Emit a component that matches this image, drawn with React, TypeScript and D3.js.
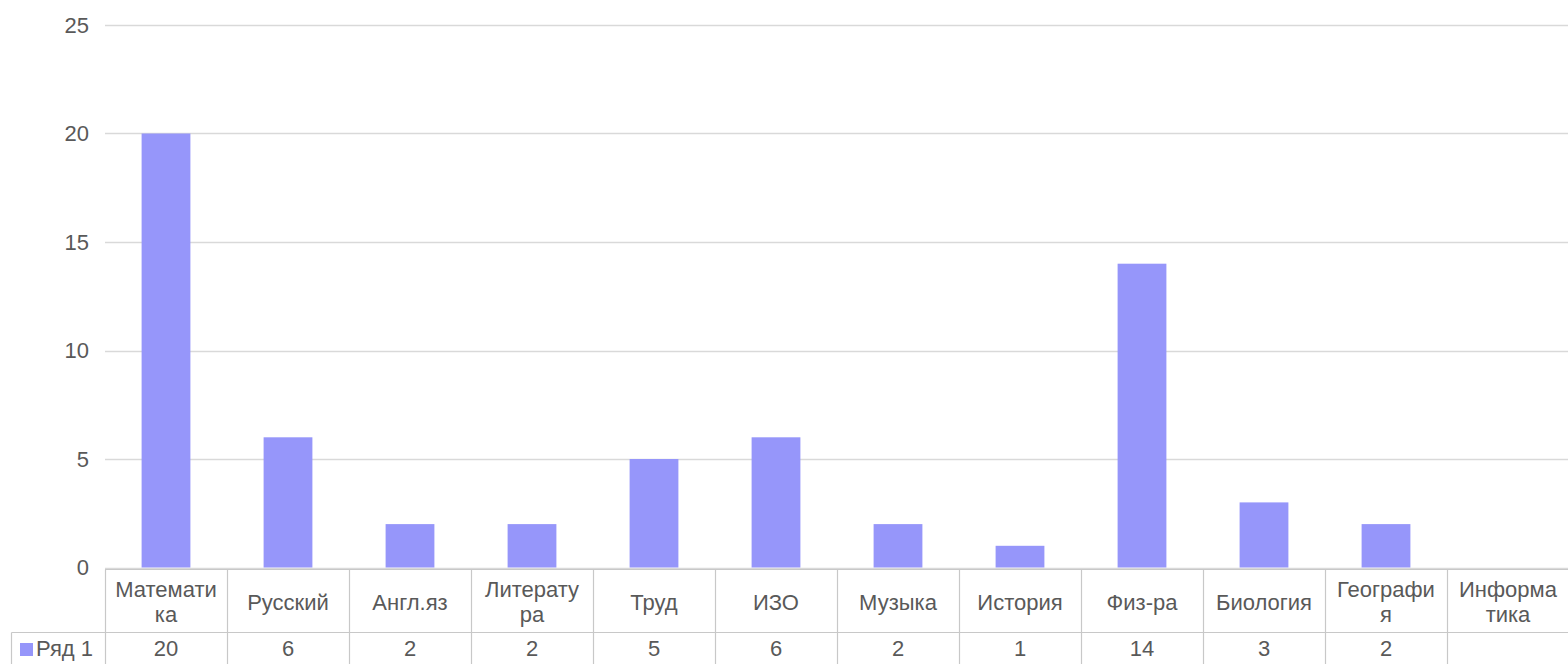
import React, { useRef, useEffect } from 'react';
import * as d3 from 'd3';

// данные
const categories = ['Математика', 'Русский', 'Англ.яз', 'Литература', 'Труд', 'ИЗО', 'Музыка', 'История', 'Физ-ра', 'Биология', 'География', 'Информатика'];
const labelLines = [['Математи', 'ка'], ['Русский'], ['Англ.яз'], ['Литерату', 'ра'], ['Труд'], ['ИЗО'], ['Музыка'], ['История'], ['Физ-ра'], ['Биология'], ['Географи', 'я'], ['Информа', 'тика']];
const values: (number | null)[] = [20, 6, 2, 2, 5, 6, 2, 1, 14, 3, 2, null];
const seriesName = 'Ряд 1';
const yTicks = [0, 5, 10, 15, 20, 25];

const W = 1568;
const H = 664;
const BAR = '#9696fa';
const TXT = '#595959';
const FONT = '"Liberation Sans", Arial, sans-serif';

function draw(svg: d3.Selection<SVGSVGElement, unknown, null, undefined>) {
  svg.selectAll('*').remove();
  const margin = { top: 25, right: 0, bottom: 96, left: 105 };

  const x = d3.scaleBand<string>()
    .domain(categories)
    .range([margin.left, margin.left + 122 * categories.length])
    .paddingInner(0.6)
    .paddingOuter(0.3);
  const step = x.step();
  const x0 = (c: string) => (x(c) as number) - step * 0.3;

  const y = d3.scaleLinear().domain([0, 25]).range([H - margin.bottom - 0.5, margin.top]);

  svg.append('rect').attr('width', W).attr('height', H).attr('fill', '#fff');

  // сетка
  svg.append('g')
    .selectAll('line')
    .data(yTicks)
    .join('line')
    .attr('x1', margin.left)
    .attr('x2', W)
    .attr('y1', d => Math.round(y(d)) + 0.5)
    .attr('y2', d => Math.round(y(d)) + 0.5)
    .attr('stroke', '#d9d9d9')
    .attr('stroke-width', 1.5);

  svg.append('g')
    .selectAll('text')
    .data(yTicks)
    .join('text')
    .attr('x', 89)
    .attr('y', d => y(d))
    .attr('dy', '0.35em')
    .attr('text-anchor', 'end')
    .attr('font-family', FONT)
    .attr('font-size', 22)
    .attr('fill', TXT)
    .text(d => d);

  // столбцы
  svg.append('g')
    .selectAll('rect')
    .data(categories.map((c, i) => ({ c, v: values[i] })).filter(d => d.v !== null))
    .join('rect')
    .attr('x', d => x(d.c) as number)
    .attr('width', x.bandwidth())
    .attr('y', d => y(d.v as number))
    .attr('height', d => y(0) - y(d.v as number))
    .attr('fill', BAR);

  // таблица данных
  const top = Math.round(y(0)) + 1.5;
  const mid = 632.5;
  const tableLeft = 11.5;
  const tbl = svg.append('g').attr('stroke', '#c8c8c8').attr('stroke-width', 1.2).attr('fill', 'none');
  tbl.append('line').attr('x1', margin.left).attr('x2', W).attr('y1', top).attr('y2', top);
  tbl.append('line').attr('x1', tableLeft).attr('x2', W).attr('y1', mid).attr('y2', mid);
  tbl.append('line').attr('x1', tableLeft).attr('x2', tableLeft).attr('y1', mid).attr('y2', H);
  tbl.selectAll('line.v')
    .data(categories)
    .join('line')
    .attr('class', 'v')
    .attr('x1', c => Math.round(x0(c)) + 0.5)
    .attr('x2', c => Math.round(x0(c)) + 0.5)
    .attr('y1', top)
    .attr('y2', H);

  const hdr = svg.append('g')
    .attr('font-family', FONT)
    .attr('font-size', 22)
    .attr('fill', TXT)
    .attr('text-anchor', 'middle');
  categories.forEach((c, i) => {
    const lines = labelLines[i];
    const cx = x0(c) + step / 2;
    const cy = (top + mid) / 2 + 1;
    lines.forEach((ln, j) => {
      hdr.append('text')
        .attr('x', cx)
        .attr('y', cy + (j - (lines.length - 1) / 2) * 25)
        .attr('dy', '0.35em')
        .text(ln);
    });
    if (values[i] !== null) {
      hdr.append('text')
        .attr('x', cx)
        .attr('y', 648)
        .attr('dy', '0.35em')
        .text(values[i] as number);
    }
  });

  // легенда
  svg.append('rect').attr('x', 20).attr('y', 643).attr('width', 13).attr('height', 13).attr('fill', BAR);
  svg.append('text')
    .attr('x', 36)
    .attr('y', 648)
    .attr('dy', '0.35em')
    .attr('font-family', FONT)
    .attr('font-size', 22)
    .attr('fill', TXT)
    .text(seriesName);
}

export default function App() {
  const ref = useRef<SVGSVGElement>(null);

  useEffect(() => {
    if (ref.current) draw(d3.select(ref.current));
  }, []);

  return (
    <svg
      ref={ref}
      width={W}
      height={H}
      style={{ position: 'absolute', left: 0, top: 0 }}
    />
  );
}
